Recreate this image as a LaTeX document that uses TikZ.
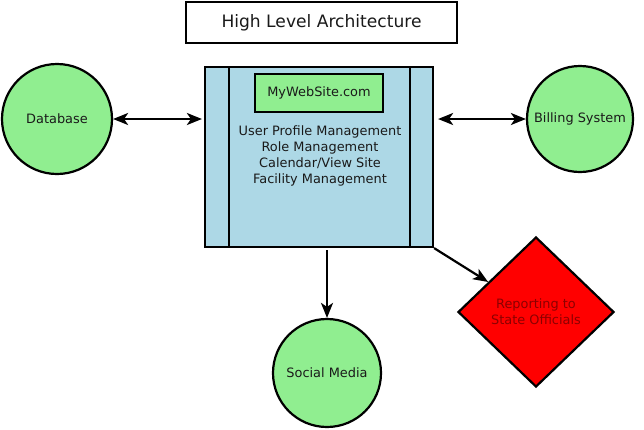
\documentclass[tikz,border=0pt]{standalone}
\usepackage{fontspec}
\setmainfont{DejaVu Sans}
\usetikzlibrary{shapes.geometric,arrows.meta}
\definecolor{lgreen}{HTML}{90EE90}
\definecolor{lblue}{HTML}{ADD8E6}
\definecolor{dred}{HTML}{8C0000}
\definecolor{txt}{HTML}{1A1A1A}
\begin{document}
\begin{tikzpicture}[x=1pt,y=-1pt,
  every node/.style={font=\fontsize{12.9}{16}\selectfont, text=txt},
  outline/.style={draw=black, line width=2.2pt},
  bubble/.style={outline, circle, fill=lgreen, inner sep=0pt},
  link/.style={line width=2.2pt, -{Stealth[length=15pt,width=12pt,inset=4pt]}},
  dlink/.style={line width=2.2pt, {Stealth[length=15pt,width=12pt,inset=4pt]}-{Stealth[length=15pt,width=12pt,inset=4pt]}}
]
\useasboundingbox (0,0) rectangle (644,429);
% title
\node[outline, fill=white, minimum width=271pt, minimum height=41pt, inner sep=0pt,
  font=\fontsize{17.1}{20}\selectfont] (title) at (321.5,22.5) {High Level Architecture};
% main box
\node[outline, fill=lblue, minimum width=228pt, minimum height=180pt, inner sep=0pt] (main) at (319,157) {};
\coordinate (l1t) at (229,67); \coordinate (l1b) at (229,247);
\coordinate (l2t) at (410,67); \coordinate (l2b) at (410,247);
\draw[line width=2.2pt] (l1t) -- (l1b);
\draw[line width=2.2pt] (l2t) -- (l2b);
\node[outline, fill=lgreen, minimum width=128pt, minimum height=38pt, inner sep=0pt] (site) at (319,93) {MyWebSite.com};
\node[align=center, inner sep=0pt] (funcs) at (320,156) {User Profile Management\\Role Management\\Calendar/View Site\\Facility Management};
% circles
\node[bubble, minimum size=110pt] (db) at (57,119) {Database};
\node[bubble, minimum size=106pt] (bill) at (580,119) {Billing System};
\node[bubble, minimum size=108pt] (sm) at (327,373) {Social Media};
% diamond
\node[outline, diamond, fill=red, minimum width=156pt, minimum height=150pt, inner sep=0pt,
  text=dred, align=center] (rep) at (536,312) {Reporting to\\State Officials};
% connectors
\draw[dlink, shorten >=2pt] (db.east) -- (db.east -| main.west);
\draw[dlink, shorten <=4pt] (bill.west -| main.east) -- (bill.west);
\draw[link, shorten <=2pt] (sm.north |- main.south) -- (sm.north);
\draw[link] (main.south east) -- (rep);
\end{tikzpicture}
\end{document}
